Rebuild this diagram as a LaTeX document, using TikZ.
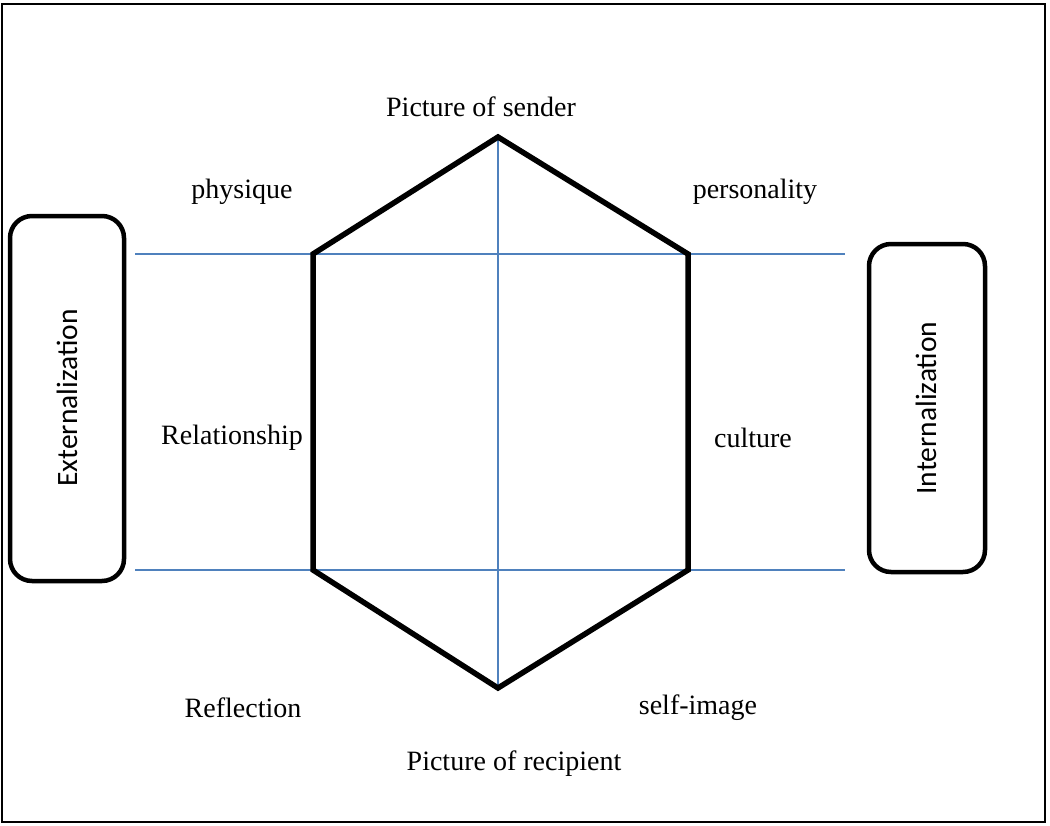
\documentclass[tikz,border=0pt]{standalone}
\usepackage{fontspec}
\setmainfont{Liberation Serif}
\newfontfamily\boxfont{Carlito}
\begin{document}
\begin{tikzpicture}[x=1pt,y=-1pt,
  lbl/.style={font=\fontsize{28}{32}\selectfont, inner sep=0pt, anchor=center},
  sidebox/.style={draw=black, line width=4.5pt, rounded corners=22pt},
  sidetext/.style={font=\boxfont\fontsize{29.5}{32}\selectfont, rotate=90, inner sep=0pt, anchor=center},
  guide/.style={line width=1.6pt, color={rgb,255:red,79;green,129;blue,189}},
  hexline/.style={draw=black, line width=5.5pt, line join=miter}
]
\useasboundingbox (0,0) rectangle (1050,825);
\draw[line width=2.2pt] (2,4) rectangle (1045,822);

% side boxes
\draw[sidebox] (10,216) rectangle (124,581);
\node[sidetext] (ext) at (67,398) {Externalization};
\draw[sidebox] (869,244) rectangle (985,572);
\node[sidetext] (int) at (926,408) {Internalization};

% guide lines
\coordinate (gl1) at (135,254);
\coordinate (gr1) at (845,254);
\coordinate (gl2) at (135,570);
\coordinate (gr2) at (845,570);
\coordinate (vt) at (498,137);
\coordinate (vb) at (498,688);
\draw[guide] (gl1) -- (gr1);
\draw[guide] (gl2) -- (gr2);
\draw[guide] (vt) -- (vb);

% hexagon
\coordinate (ul) at (313,254);
\coordinate (ll) at (313,570);
\coordinate (lr) at (688,570);
\coordinate (ur) at (688,254);
\draw[hexline] (vt) -- (ul) -- (ll) -- (vb) -- (lr) -- (ur) -- cycle;

% labels
\node[lbl] (sender) at (481,107) {Picture of sender};
\node[lbl] (phys) at (242,192) {physique};
\node[lbl] (pers) at (755,192) {personality};
\node[lbl] (rel) at (232,438) {Relationship};
\node[lbl] (cult) at (753,438) {culture};
\node[lbl] (refl) at (243,708) {Reflection};
\node[lbl] (self) at (698,708) {self-image};
\node[lbl] (recip) at (514,764) {Picture of recipient};
\end{tikzpicture}
\end{document}
